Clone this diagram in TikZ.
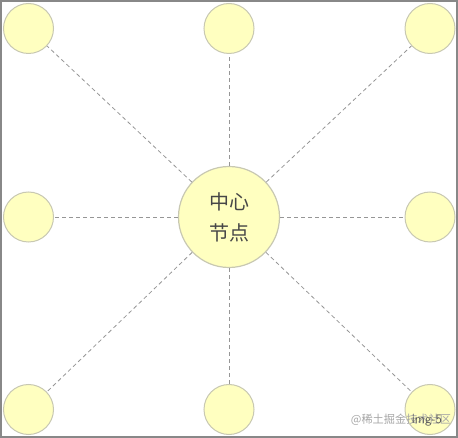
\documentclass[tikz,border=0pt]{standalone}
\usepackage{fontspec}
\newfontfamily\cjk{Noto Sans CJK SC}
\definecolor{leaffill}{RGB}{255,255,192}
\definecolor{leafline}{RGB}{200,200,178}
\definecolor{linkgray}{RGB}{150,150,150}
\definecolor{framegray}{RGB}{136,136,136}
\tikzset{
  leaf/.style={circle,draw=leafline,fill=leaffill,line width=1pt,minimum size=50pt,inner sep=0pt},
  hub/.style={circle,draw=leafline,fill=leaffill,line width=1.2pt,minimum size=101pt,inner sep=0pt,
    align=center,font=\cjk\fontsize{20}{31}\selectfont,text=black!72},
  link/.style={draw=linkgray,line width=0.8pt,dash pattern=on 4pt off 3pt}
}
\begin{document}
\begin{tikzpicture}[x=1pt,y=1pt,yscale=-1]
\useasboundingbox (0,0) rectangle (458,438);

%Frame
\draw [framegray,line width=2pt] (1,1) rectangle (457,437);

% Center node
\node [hub] (hub) at (229,217) {中心\\节点};

% Leaf nodes
\node [leaf] (nw) at (28.5,28.5) {};
\node [leaf] (n) at (229,28.5) {};
\node [leaf] (ne) at (430,28.5) {};
\node [leaf] (w) at (28.5,217) {};
\node [leaf] (e) at (430,217) {};
\node [leaf] (sw) at (28.5,409.5) {};
\node [leaf] (s) at (229,409.5) {};
\node [leaf] (se) at (430,409.5) {};

% Links
\foreach \leafname in {nw,n,ne,w,e,sw,s,se}
  \draw [link] (hub) -- (\leafname);

% Watermark
\node [text=black!35,font=\cjk\fontsize{11.2}{13}\selectfont] (mark) at (401,420) {@稀土掘金技术社区};
\node [text=black!65,font=\sffamily\fontsize{13}{15}\selectfont] (tag) at (427,421) {img-5};

\end{tikzpicture}
\end{document}
